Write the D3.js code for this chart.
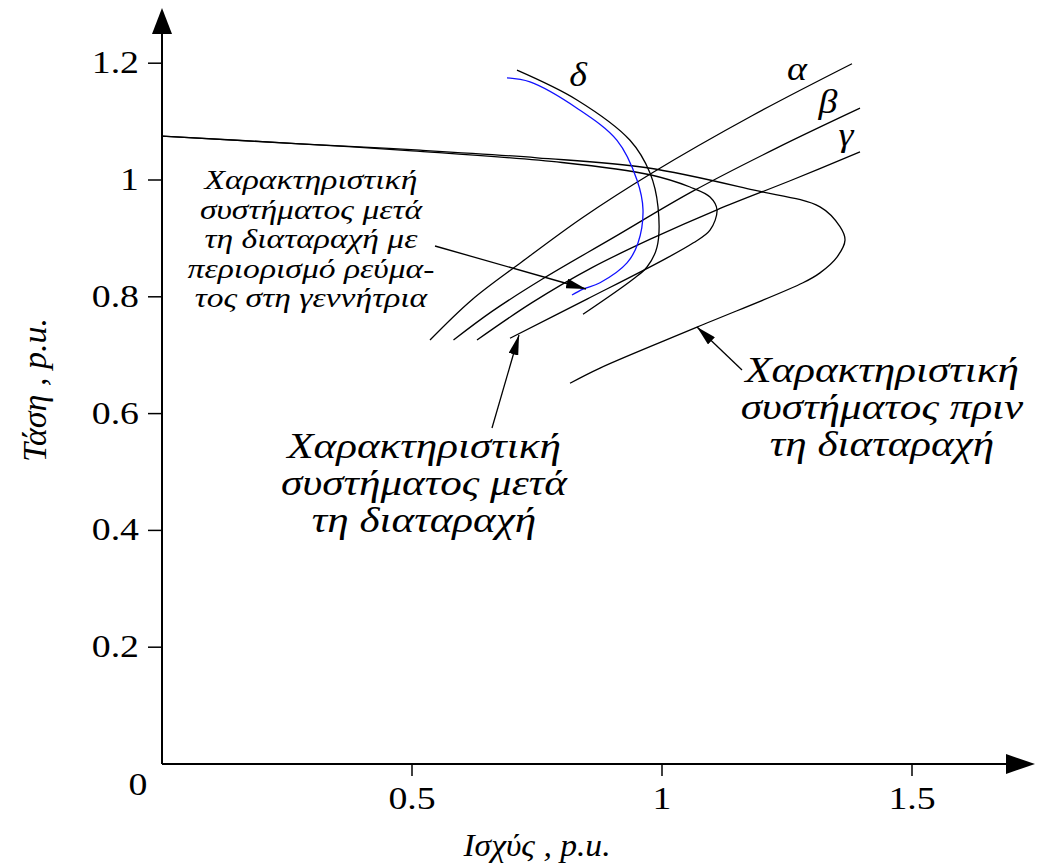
<!DOCTYPE html>
<html lang="el">
<head>
    <meta charset="UTF-8">
    <style>
        body { margin: 0; background: #fff; }
        svg text { font-family: "Liberation Serif", "DejaVu Serif", serif; fill: #000; }
        .curve { fill: none; stroke: #000; stroke-width: 1.3px; }
        .axis-line { stroke: #000; stroke-width: 2px; }
        .note { font-style: italic; }
    </style>
</head>
<body>
    <svg width="1037" height="867"></svg>
    <script src="https://cdn.jsdelivr.net/npm/d3@7"></script>
    <script>

        // tick values / labels
        var xTicks = [0.5, 1, 1.5],
            xTickLabels = ["0.5", "1", "1.5"],
            yTicks = [0.2, 0.4, 0.6, 0.8, 1, 1.2],
            yTickLabels = ["0.2", "0.4", "0.6", "0.8", "1", "1.2"];

        // system characteristic before the disturbance (P, V)
        var preCurve = [[0, 1.075], [0.276, 1.062], [0.516, 1.051], [0.75, 1.038], [0.97, 1.021],
            [1.182, 0.983], [1.316, 0.954], [1.356, 0.92], [1.366, 0.897], [1.35, 0.868],
            [1.316, 0.841], [1.282, 0.824], [1.07, 0.748], [0.876, 0.678], [0.816, 0.652]];

        // system characteristic after the disturbance
        var postCurve = [[0, 1.075], [0.276, 1.062], [0.5, 1.05], [0.8, 1.03], [0.976, 1.009],
            [1.056, 0.988], [1.096, 0.971], [1.11, 0.949], [1.096, 0.914], [1.062, 0.892],
            [1.0, 0.862], [0.85, 0.796], [0.696, 0.729]];

        // after the disturbance, generator current limited (blue)
        var limitCurve = [[0.69, 1.175], [0.736, 1.168], [0.83, 1.123], [0.91, 1.068], [0.95, 1.0],
            [0.962, 0.949], [0.952, 0.892], [0.93, 0.858], [0.876, 0.824], [0.842, 0.813], [0.82, 0.803]];

        // curve delta
        var deltaCurve = [[0.71, 1.188], [0.83, 1.137], [0.936, 1.068], [0.976, 1.012], [0.992, 0.954],
            [0.99, 0.885], [0.97, 0.851], [0.942, 0.83], [0.842, 0.77]];

        // load characteristics alpha, beta, gamma
        var alphaCurve = [[0.536, 0.726], [0.62, 0.795], [0.72, 0.86], [0.84, 0.935], [0.98, 1.012], [1.18, 1.11], [1.38, 1.199]],
            betaCurve = [[0.583, 0.726], [0.66, 0.775], [0.76, 0.83], [0.9, 0.9], [1.06, 0.98], [1.23, 1.055], [1.396, 1.123]],
            gammaCurve = [[0.63, 0.726], [0.74, 0.79], [0.86, 0.85], [0.98, 0.9], [1.11, 0.949], [1.26, 1.0], [1.396, 1.048]];

        var svg = d3.select("svg");

        var x = d3.scaleLinear().domain([0, 1]).range([162, 662]),
            y = d3.scaleLinear().domain([0, 1]).range([764, 180]);

        var line = d3.line()
            .curve(d3.curveCatmullRom)
            .x(function(d) { return x(d[0]); })
            .y(function(d) { return y(d[1]); });

        svg.append("defs").append("marker")
            .attr("id", "head")
            .attr("viewBox", "0 0 20 10")
            .attr("refX", 20).attr("refY", 5)
            .attr("markerWidth", 20).attr("markerHeight", 10)
            .attr("markerUnits", "userSpaceOnUse")
            .attr("orient", "auto")
            .append("path")
            .attr("d", "M0,0 L20,5 L0,10 Z")
            .attr("fill", "#000");

        // text that is a bit wider than the font, like the original drawing
        function label(px, py, str, size, sx, anchor, italic) {
            return svg.append("text")
                .attr("class", italic ? "note" : null)
                .attr("transform", "translate(" + px + "," + py + ") scale(" + sx + ",1)")
                .attr("text-anchor", anchor)
                .style("font-size", size + "px")
                .text(str);
        }

        // axes
        var x0 = x(0), y0 = y(0);
        svg.append("line").attr("class", "axis-line")
            .attr("x1", x0).attr("y1", y0).attr("x2", 1010).attr("y2", y0);
        svg.append("line").attr("class", "axis-line")
            .attr("x1", x0).attr("y1", y0).attr("x2", x0).attr("y2", 30);
        svg.append("path").attr("d", "M1035," + y0 + " L1006," + (y0 - 10) + " L1006," + (y0 + 10) + " Z");
        svg.append("path").attr("d", "M" + x0 + ",8 L" + (x0 - 10) + ",34 L" + (x0 + 10) + ",34 Z");

        svg.selectAll(".xtick").data(xTicks).enter().append("line")
            .attr("class", "xtick").attr("stroke", "#000").attr("stroke-width", 1.5)
            .attr("x1", function(d) { return x(d); }).attr("x2", function(d) { return x(d); })
            .attr("y1", y0).attr("y2", y0 + 12);
        xTicks.forEach(function(d, i) {
            label(x(d), 809, xTickLabels[i], 31, 1.22, "middle", false);
        });

        svg.selectAll(".ytick").data(yTicks).enter().append("line")
            .attr("class", "ytick").attr("stroke", "#000").attr("stroke-width", 1.5)
            .attr("x1", x0 - 14).attr("x2", x0)
            .attr("y1", function(d) { return y(d); }).attr("y2", function(d) { return y(d); });
        yTicks.forEach(function(d, i) {
            label(139, y(d) + 10, yTickLabels[i], 31, 1.22, "end", false);
        });
        label(138, 795, "0", 31, 1.22, "middle", false);

        label(537, 856, "Ισχύς , p.u.", 32, 1.05, "middle", true);
        svg.append("text").attr("class", "note")
            .attr("transform", "translate(46,390) rotate(-90)").attr("text-anchor", "middle")
            .style("font-size", "34px").text("Τάση , p.u.");

        // curves
        var curves = [preCurve, postCurve, deltaCurve, alphaCurve, betaCurve, gammaCurve];
        svg.selectAll(".curve").data(curves).enter().append("path")
            .attr("class", "curve")
            .attr("d", line);
        svg.append("path").attr("class", "curve")
            .style("stroke", "#1010ff")
            .attr("d", line(limitCurve));

        // curve labels
        var greek = [["δ", 578, 86], ["α", 797, 80], ["β", 828, 113], ["γ", 846, 146]];
        greek.forEach(function(d) { label(d[1], d[2], d[0], 33, 1.15, "middle", true); });

        function block(lines, cx, y1, step, size, sx) {
            lines.forEach(function(s, i) {
                label(cx, y1 + i * step, s, size, sx, "middle", true);
            });
        }

        block(["Χαρακτηριστική", "συστήματος μετά", "τη διαταραχή με", "περιορισμό ρεύμα-", "τος στη γεννήτρια"], 311, 189, 29.5, 28, 1.2);
        block(["Χαρακτηριστική", "συστήματος μετά", "τη διαταραχή"], 424, 458, 37, 36, 1.2);
        block(["Χαρακτηριστική", "συστήματος πριν", "τη διαταραχή"], 882, 382, 37, 36, 1.2);

        // pointer arrows
        var arrows = [[[435, 246], [586, 289]], [[492, 428], [519, 335]], [[742, 370], [697, 327]]];
        svg.selectAll(".arrow").data(arrows).enter().append("line")
            .attr("class", "arrow")
            .attr("stroke", "#000").attr("stroke-width", 1.3)
            .attr("x1", function(d) { return d[0][0]; }).attr("y1", function(d) { return d[0][1]; })
            .attr("x2", function(d) { return d[1][0]; }).attr("y2", function(d) { return d[1][1]; })
            .attr("marker-end", "url(#head)");
    </script>
</body>
</html>
